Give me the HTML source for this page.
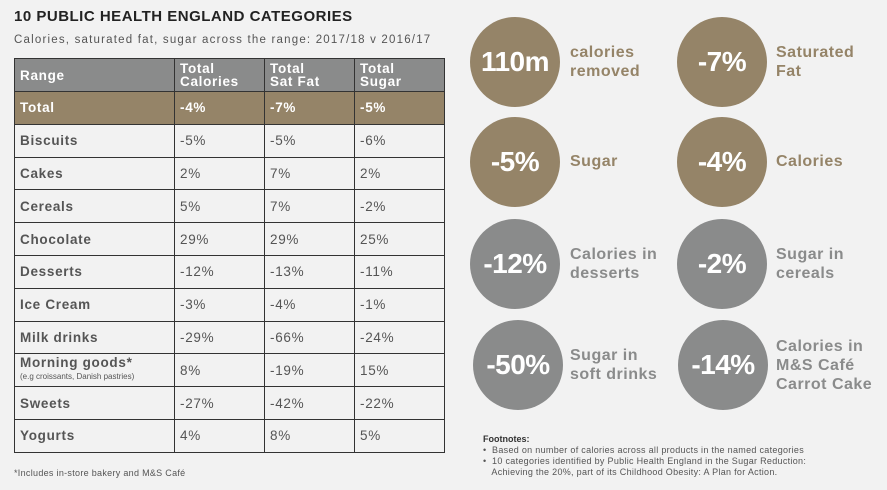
<!DOCTYPE html>
<html><head><style>
body{margin:0;width:887px;height:490px;background:#f2f2f2;font-family:"Liberation Sans",sans-serif;position:relative;overflow:hidden}
.t{position:absolute}
table{position:absolute;left:14px;top:58px;border-collapse:collapse;width:431px}
td{border:1.5px solid #333;font-size:13.5px;color:#555;padding:0 0 0 5px;height:31.8px;letter-spacing:0.7px;font-weight:bold}
td.v{font-weight:normal;color:#555}
tr.h td{background:#8a8b8b;color:#fff;height:32px;line-height:13px;font-weight:bold}
tr.tot td{background:#958468;color:#fff;font-weight:bold}
.c{position:absolute;width:90px;height:90px;border-radius:50%;color:#fff;font-weight:bold;font-size:28px;text-align:center;line-height:90px;letter-spacing:-0.5px}
.g{background:#958468}.k{background:#8a8b8b}
.l{position:absolute;font-size:16px;font-weight:bold;line-height:19px;letter-spacing:0.5px}
.lg{color:#958468}.lk{color:#8a8b8b}
</style></head><body>
<div class="t" style="left:14px;top:8px;font-size:15px;font-weight:bold;color:#222;letter-spacing:0.5px">10 PUBLIC HEALTH ENGLAND CATEGORIES</div>
<div class="t" style="left:14px;top:34px;font-size:11.5px;color:#555;letter-spacing:1.2px">Calories, saturated fat, sugar across the range: 2017/18 v 2016/17</div>
<table>
<colgroup><col style="width:160px"><col style="width:90px"><col style="width:90px"><col style="width:90px"></colgroup>
<tr class="h"><td>Range</td><td>Total<br>Calories</td><td>Total<br>Sat Fat</td><td>Total<br>Sugar</td></tr>
<tr class="tot"><td>Total</td><td>-4%</td><td>-7%</td><td>-5%</td></tr>
<tr><td>Biscuits</td><td class="v">-5%</td><td class="v">-5%</td><td class="v">-6%</td></tr>
<tr><td>Cakes</td><td class="v">2%</td><td class="v">7%</td><td class="v">2%</td></tr>
<tr><td>Cereals</td><td class="v">5%</td><td class="v">7%</td><td class="v">-2%</td></tr>
<tr><td>Chocolate</td><td class="v">29%</td><td class="v">29%</td><td class="v">25%</td></tr>
<tr><td>Desserts</td><td class="v">-12%</td><td class="v">-13%</td><td class="v">-11%</td></tr>
<tr><td>Ice Cream</td><td class="v">-3%</td><td class="v">-4%</td><td class="v">-1%</td></tr>
<tr><td>Milk drinks</td><td class="v">-29%</td><td class="v">-66%</td><td class="v">-24%</td></tr>
<tr><td style="line-height:12px">Morning goods*<br><span style="font-size:8px;font-weight:normal;letter-spacing:0">(e.g croissants, Danish pastries)</span></td><td class="v">8%</td><td class="v">-19%</td><td class="v">15%</td></tr>
<tr><td>Sweets</td><td class="v">-27%</td><td class="v">-42%</td><td class="v">-22%</td></tr>
<tr><td>Yogurts</td><td class="v">4%</td><td class="v">8%</td><td class="v">5%</td></tr>
</table>
<div class="t" style="left:14px;top:468px;font-size:9px;color:#555;letter-spacing:0.3px">*Includes in-store bakery and M&amp;S Café</div>

<div class="c g" style="left:470px;top:17px">110m</div>
<div class="l lg" style="left:570px;top:43px">calories<br>removed</div>
<div class="c g" style="left:677px;top:17px">-7%</div>
<div class="l lg" style="left:776px;top:43px">Saturated<br>Fat</div>

<div class="c g" style="left:470px;top:117px">-5%</div>
<div class="l lg" style="left:570px;top:152px">Sugar</div>
<div class="c g" style="left:677px;top:117px">-4%</div>
<div class="l lg" style="left:776px;top:152px">Calories</div>

<div class="c k" style="left:470px;top:219px">-12%</div>
<div class="l lk" style="left:570px;top:245px">Calories in<br>desserts</div>
<div class="c k" style="left:677px;top:219px">-2%</div>
<div class="l lk" style="left:776px;top:245px">Sugar in<br>cereals</div>

<div class="c k" style="left:473px;top:320px">-50%</div>
<div class="l lk" style="left:570px;top:346px">Sugar in<br>soft drinks</div>
<div class="c k" style="left:678px;top:320px">-14%</div>
<div class="l lk" style="left:776px;top:337px">Calories in<br>M&amp;S Café<br>Carrot Cake</div>

<div class="t" style="left:483px;top:434px;font-size:9px;color:#333;font-weight:bold">Footnotes:</div>
<div class="t" style="left:483px;top:445px;font-size:9px;color:#555;line-height:11px;letter-spacing:0.3px">• &nbsp;Based on number of calories across all products in the named categories<br>• &nbsp;10 categories identified by Public Health England in the Sugar Reduction:<br>&nbsp;&nbsp;&nbsp;Achieving the 20%, part of its Childhood Obesity: A Plan for Action.</div>
</body></html>
